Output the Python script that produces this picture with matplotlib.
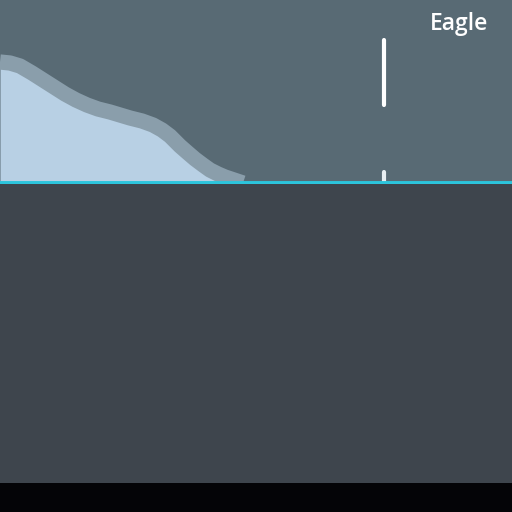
import matplotlib
matplotlib.use('Agg')
import matplotlib.pyplot as plt

# elevation profile (distance px, height px above baseline)
distance = [0, 10, 20, 32, 43, 54, 65, 76, 87, 98, 110, 120, 130, 142, 153, 162,
            170, 176, 180, 188, 195, 203, 210, 218, 225, 234, 243]
height = [121, 120, 117, 110, 103, 96, 89, 83, 78, 74, 71, 68, 65, 62, 58, 53,
          47, 41, 37, 30, 24, 18, 13, 9, 6, 3, 0]

# marker position and label
marker_x = 384
marker_span = (78, 143)
tick_span = (0, 11)
label = 'Eagle'

W, H = 512, 512
top_h = 183
fig = plt.figure(figsize=(W / 100, H / 100), dpi=100, facecolor='#040407')

ax_top = fig.add_axes([0, 1 - top_h / H, 1, top_h / H])
ax_top.set_facecolor('#586a74')
ax_top.set_xlim(0, W)
ax_top.set_ylim(0, top_h)

ax_bot = fig.add_axes([0, 29 / H, 1, (483 - 184) / H])
ax_bot.set_facecolor('#3e454d')

for ax in (ax_top, ax_bot):
    ax.set_xticks([])
    ax.set_yticks([])
    for s in ax.spines.values():
        s.set_visible(False)

ax_top.fill_between(distance, height, 0, color='#b8d0e4', lw=0, zorder=2)
ax_top.plot(distance, height, color='#8a9eab', lw=11, solid_capstyle='butt',
            solid_joinstyle='round', zorder=3)

ax_top.plot([marker_x, marker_x], marker_span, color='white', lw=3,
            solid_capstyle='round', zorder=4)
ax_top.plot([marker_x, marker_x], tick_span, color='#e8eef2', lw=3,
            solid_capstyle='round', zorder=4)

ax_top.axhline(0, color='#2cc4dc', lw=2.8, clip_on=False, zorder=5)

ax_top.text(459, 159, label, color='white', fontsize=16.5, fontweight='semibold',
            family='Open Sans', ha='center', va='center', zorder=6)

fig.savefig('out.png', dpi=100, facecolor=fig.get_facecolor())
